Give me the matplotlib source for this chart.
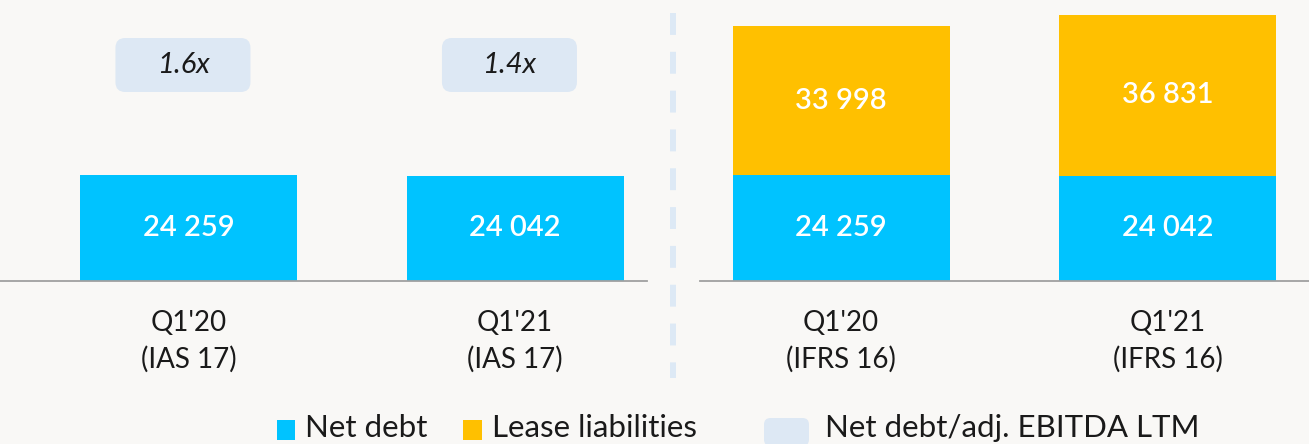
import matplotlib
matplotlib.use("Agg")
import matplotlib.pyplot as plt
from matplotlib.patches import FancyBboxPatch, Rectangle
from matplotlib.lines import Line2D
import numpy as np

plt.rcParams['font.family'] = ['Lato', 'DejaVu Sans']

# values, RUB m
periods_ias = ["Q1'20\n(IAS 17)", "Q1'21\n(IAS 17)"]
periods_ifrs = ["Q1'20\n(IFRS 16)", "Q1'21\n(IFRS 16)"]
net_debt = [24259, 24042]
lease_liabilities = [33998, 36831]
ratio_labels = ["1.6x", "1.4x"]

BG = "#f9f8f6"
BLUE = "#00c3ff"
ORANGE = "#ffc000"
PALE = "#dde8f4"
GREY = "#a0a0a0"
INK = "#1a1a1a"

W, H = 1309, 444
fig = plt.figure(figsize=(W / 100, H / 100), dpi=100, facecolor=BG)

base_px = 281          # baseline, px from top
px_per_unit = 106 / 24259
ymax = base_px / px_per_unit
step_px = 326.5        # distance between bar centres
bar_w = 217 / step_px


def fmt(v):
    return f"{v:,}".replace(",", " ")


def make_axes(left_px, right_px, first_centre_px):
    ax = fig.add_axes([left_px / W, (H - base_px) / H,
                       (right_px - left_px) / W, base_px / H])
    ax.set_facecolor("none")
    ax.set_xlim((left_px - first_centre_px) / step_px,
                (right_px - first_centre_px) / step_px)
    ax.set_ylim(0, ymax)
    for s in ("top", "left", "right"):
        ax.spines[s].set_visible(False)
    ax.spines["bottom"].set_color(GREY)
    ax.spines["bottom"].set_linewidth(1.3)
    ax.set_yticks([])
    ax.tick_params(axis="x", length=0, pad=21)
    return ax


def value_label(ax, x, y, v):
    ax.text(x, y, fmt(v), ha="center", va="center",
            color="white", fontsize=21, fontweight="semibold")


x = np.arange(2)

# IAS 17: net debt only, plus leverage boxes
ax1 = make_axes(0, 647, 188.5)
ax1.bar(x, net_debt, width=bar_w, color=BLUE, linewidth=0)
for xi, v in zip(x, net_debt):
    value_label(ax1, xi, v / 2, v)
box_w = 135 / step_px
box_h = 54 / px_per_unit
box_cy = (base_px - 65) / px_per_unit
aspect = (1 / px_per_unit) / (1 / step_px)
for xi, lab in zip(x, ratio_labels):
    cx = xi - 0.017
    ax1.add_patch(FancyBboxPatch((cx - box_w / 2, box_cy - box_h / 2), box_w, box_h,
                                 boxstyle="round,pad=0,rounding_size=0.03",
                                 mutation_aspect=aspect, facecolor=PALE,
                                 edgecolor="none", clip_on=False))
    ax1.text(cx, box_cy, lab, ha="center", va="center", fontsize=21,
             style="italic", color=INK)
ax1.set_xticks(x, periods_ias, fontsize=20, color=INK, linespacing=1.45)

# IFRS 16: net debt + lease liabilities stacked
ax2 = make_axes(700, 1309, 841)
ax2.bar(x, net_debt, width=bar_w, color=BLUE, linewidth=0)
ax2.bar(x, lease_liabilities, bottom=net_debt, width=bar_w, color=ORANGE, linewidth=0)
for xi, nd, ll in zip(x, net_debt, lease_liabilities):
    value_label(ax2, xi, nd / 2, nd)
    value_label(ax2, xi, nd + ll / 2, ll)
ax2.set_xticks(x, periods_ifrs, fontsize=20, color=INK, linespacing=1.45)

# dashed divider between the two standards
fig.add_artist(Line2D([673 / W, 673 / W], [(H - 13) / H, (H - 378) / H],
                      transform=fig.transFigure, color="#dde9f5", linewidth=4.3,
                      linestyle=(0, (22 / 6, 17 / 6))))

# legend row
leg_base = (H - 437) / H
leg_fs = 22.5
fig.add_artist(Rectangle((277 / W, (H - 440) / H), 18 / W, 20 / H,
                         transform=fig.transFigure, color=BLUE, linewidth=0))
fig.text(305 / W, leg_base, "Net debt", fontsize=leg_fs, va="baseline", color=INK)
fig.add_artist(Rectangle((463 / W, (H - 440) / H), 19 / W, 20 / H,
                         transform=fig.transFigure, color=ORANGE, linewidth=0))
fig.text(492 / W, leg_base, "Lease liabilities", fontsize=leg_fs, va="baseline", color=INK)
fig.add_artist(FancyBboxPatch((764 / W, (H - 446) / H), 45 / W, 28 / H,
                              boxstyle="round,pad=0,rounding_size=0.005",
                              mutation_aspect=W / H, transform=fig.transFigure,
                              facecolor=PALE, edgecolor="none"))
fig.text(825 / W, leg_base, "Net debt/adj. EBITDA LTM", fontsize=leg_fs,
         va="baseline", color=INK)

fig.savefig("out.png", dpi=100, facecolor=BG)
